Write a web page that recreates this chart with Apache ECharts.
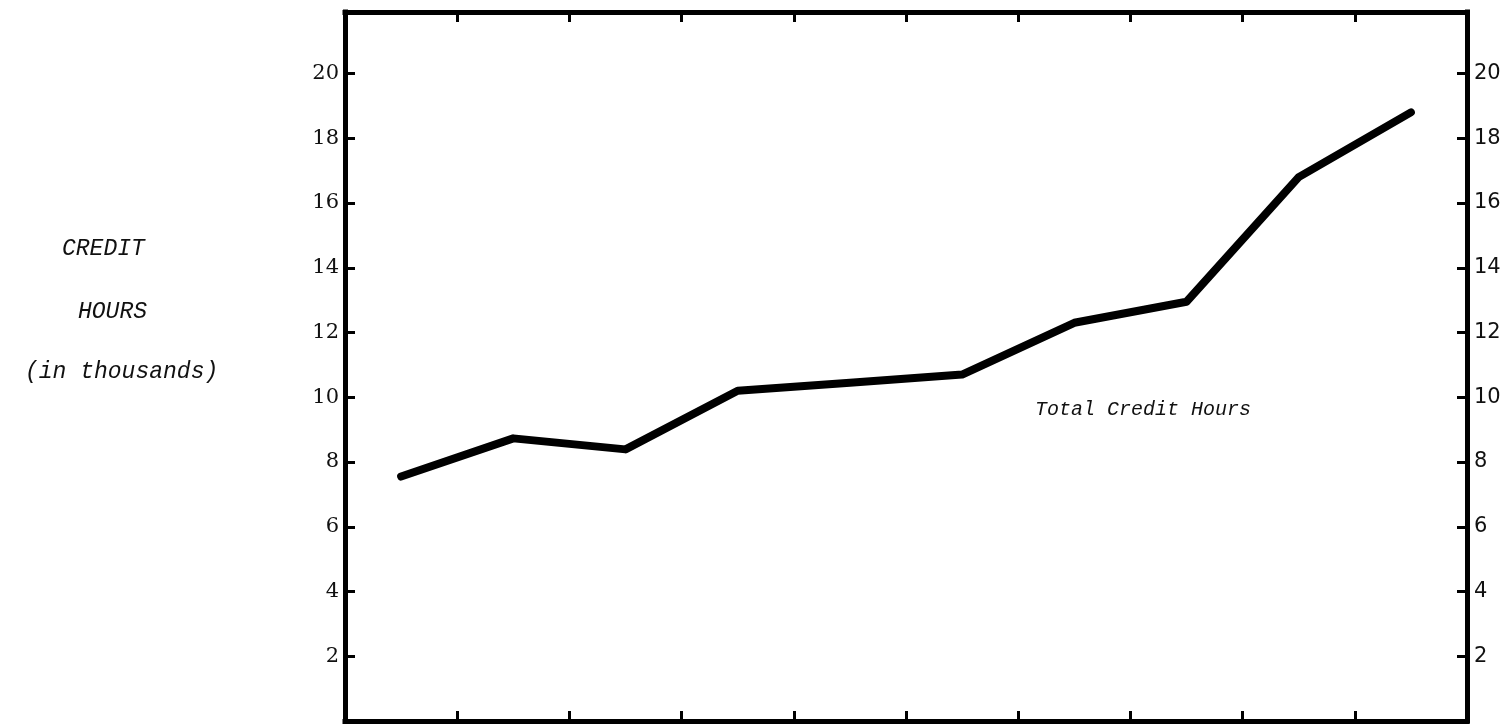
<!DOCTYPE html>
<html>
<head>
<meta charset="utf-8">
<script src="https://cdn.jsdelivr.net/npm/echarts@6/dist/echarts.min.js"></script>
<style>
html,body{margin:0;padding:0;background:#fff;}
#chart{width:1510px;height:725px;}
</style>
</head>
<body>
<div id="chart"></div>
<script>
// ---- data ----
var categories = ['1','2','3','4','5','6','7','8','9','10'];
var totalCreditHours = [7.55, 8.73, 8.39, 10.2, 10.45, 10.7, 12.3, 12.95, 16.8, 18.8];
var yTickLabels = [2, 4, 6, 8, 10, 12, 14, 16, 18, 20];
var seriesLabel = 'Total Credit Hours';
var yTitleLines = ['CREDIT', 'HOURS', '(in thousands)'];

var chart = echarts.init(document.getElementById('chart'), null, {renderer: 'canvas'});

function yFmt(v) {
  return yTickLabels.indexOf(Math.round(v * 1000) / 1000) >= 0 ? String(v) : '';
}
var frameLine = {show: true, onZero: false, lineStyle: {color: '#000', width: 5, cap: 'square'}};
var tickStyle = {color: '#000', width: 3};

var option = {
  animation: false,
  backgroundColor: '#fff',
  grid: {left: 345, right: 43, top: 12, bottom: 4, containLabel: false},
  xAxis: [
    {type: 'category', data: categories, position: 'bottom', boundaryGap: true,
     axisLine: frameLine, axisTick: {show: true, inside: true, length: 10, lineStyle: tickStyle},
     axisLabel: {show: false}, splitLine: {show: false}},
    {type: 'category', data: categories, position: 'top', boundaryGap: true,
     axisLine: frameLine, axisTick: {show: true, inside: true, length: 10, lineStyle: tickStyle},
     axisLabel: {show: false}, splitLine: {show: false}}
  ],
  yAxis: [
    {type: 'value', position: 'left', min: 0, max: 21.9, interval: 2,
     axisLine: frameLine, axisTick: {show: true, inside: true, length: 10, lineStyle: tickStyle},
     axisLabel: {show: true, formatter: yFmt, margin: 6, color: '#111', fontFamily: 'DejaVu Serif', fontSize: 21},
     splitLine: {show: false}},
    {type: 'value', position: 'right', min: 0, max: 21.9, interval: 2,
     axisLine: frameLine, axisTick: {show: true, inside: true, length: 10, lineStyle: tickStyle},
     axisLabel: {show: true, formatter: yFmt, margin: 7, color: '#111', fontFamily: 'DejaVu Sans', fontSize: 21},
     splitLine: {show: false}}
  ],
  series: [{
    name: seriesLabel,
    type: 'line',
    data: totalCreditHours,
    xAxisIndex: 0, yAxisIndex: 0,
    symbol: 'none',
    lineStyle: {color: '#000', width: 8, cap: 'round', join: 'round'},
    z: 5
  }],
  graphic: [
    {type: 'text', left: 62, top: 237, style: {text: yTitleLines[0], font: 'italic 23px "Liberation Mono"', fill: '#111'}},
    {type: 'text', left: 78, top: 300, style: {text: yTitleLines[1], font: 'italic 23px "Liberation Mono"', fill: '#111'}},
    {type: 'text', left: 25, top: 360, style: {text: yTitleLines[2], font: 'italic 23px "Liberation Mono"', fill: '#111'}},
    {type: 'text', left: 1035, top: 400, style: {text: seriesLabel, font: 'italic 20px "Liberation Mono"', fill: '#111'}}
  ]
};
chart.setOption(option);
</script>
</body>
</html>
